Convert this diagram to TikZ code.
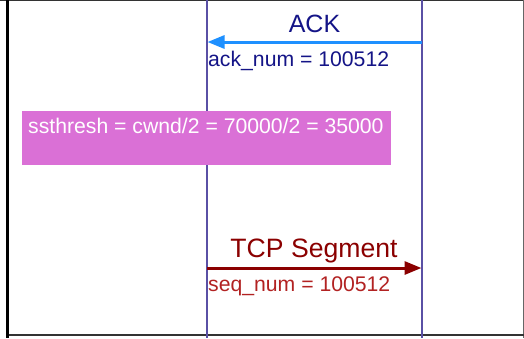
\documentclass[tikz,border=0pt]{standalone}
\usepackage{fontspec}
\setmainfont{Liberation Sans}
\usetikzlibrary{arrows.meta}
\definecolor{lifeline}{RGB}{90,80,165}
\definecolor{ackblue}{RGB}{30,144,255}
\definecolor{acktext}{RGB}{20,20,135}
\definecolor{segred}{RGB}{139,0,0}
\definecolor{seqred}{RGB}{178,34,34}
\definecolor{boxorchid}{RGB}{218,112,214}
\tikzset{
  lifelinestyle/.style={draw=lifeline, line width=2pt},
  msg/.style={line width=3pt, -{Triangle[length=17pt,width=13pt]}},
  bigtext/.style={font=\fontsize{25}{29}\selectfont, inner sep=0pt, anchor=base},
  smalltext/.style={font=\fontsize{21.2}{25}\selectfont, inner sep=0pt, anchor=base west},
}
\begin{document}
\begin{tikzpicture}[x=1pt,y=-1pt]
\useasboundingbox (0,0) rectangle (524,338);
\fill[white] (0,0) rectangle (524,338);
% frame
\draw[black!80, line width=1pt] (0,0.5) -- (524,0.5);
\draw[black!60, line width=1pt] (523,0) -- (523,338);
\draw[black!80, line width=2pt] (6,335) -- (524,335);
\draw[black, line width=3pt] (7,0) -- (7,338);
% lifelines
\coordinate (aTop) at (207,0);
\coordinate (aBot) at (207,338);
\coordinate (bTop) at (422,0);
\coordinate (bBot) at (422,338);
\draw[lifelinestyle] (aTop) -- (aBot);
\draw[lifelinestyle] (bTop) -- (bBot);
% ssthresh box
\node[fill=boxorchid, minimum width=369pt, minimum height=54pt, inner sep=0pt, anchor=north west] (box) at (22,111) {};
\node[smalltext, text=white] (ss) at (28,133) {ssthresh = cwnd/2 = 70000/2 = 35000};
% ACK message
\coordinate (ackStart) at (422,42);
\coordinate (ackEnd) at (207.5,42);
\draw[msg, draw=ackblue, fill=ackblue] (ackStart) -- (ackEnd);
\node[bigtext, text=acktext] (ack) at (314.5,32) {ACK};
\node[smalltext, text=acktext] (acknum) at (208,66) {ack\_num = 100512};
% TCP segment
\coordinate (segStart) at (207,268);
\coordinate (segEnd) at (421.5,268);
\draw[msg, draw=segred, fill=segred] (segStart) -- (segEnd);
\node[bigtext, font=\fontsize{26.6}{30}\selectfont, text=segred] (seg) at (314,257) {TCP Segment};
\node[smalltext, text=seqred] (seqnum) at (208,291) {seq\_num = 100512};
\end{tikzpicture}
\end{document}
